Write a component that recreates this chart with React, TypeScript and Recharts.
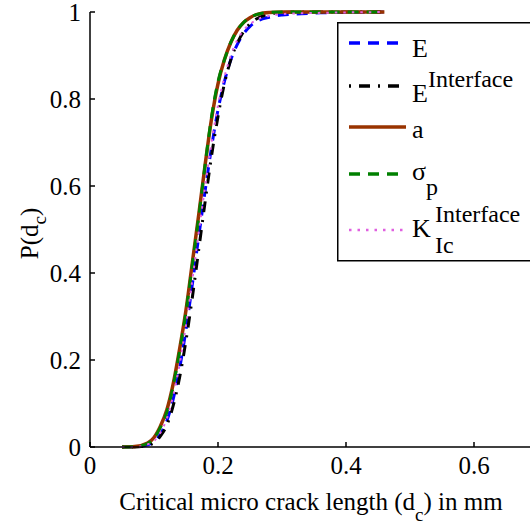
import React from 'react';
import { LineChart, Line, XAxis, YAxis, Legend, Label } from 'recharts';

// critical micro crack length d_c (mm)
const crackLength = [0.05, 0.07, 0.09, 0.1, 0.11, 0.12, 0.13, 0.14, 0.15, 0.16, 0.17, 0.18, 0.19, 0.2, 0.21, 0.22, 0.23, 0.24, 0.25, 0.26, 0.28, 0.3, 0.33, 0.36, 0.4, 0.46];

// P(d_c) for each varied parameter
const pE = [0, 0, 0.005, 0.012, 0.03, 0.06, 0.11, 0.18, 0.27, 0.375, 0.485, 0.59, 0.69, 0.775, 0.84, 0.89, 0.925, 0.95, 0.967, 0.978, 0.988, 0.993, 0.996, 0.998, 0.999, 1];
const pEInterface = [0, 0, 0.004, 0.01, 0.025, 0.05, 0.095, 0.16, 0.245, 0.345, 0.455, 0.565, 0.67, 0.76, 0.835, 0.89, 0.928, 0.955, 0.973, 0.984, 0.995, 0.999, 1, 1, 1, 1];
const pA = [0, 0.001, 0.009, 0.022, 0.048, 0.085, 0.145, 0.225, 0.315, 0.425, 0.535, 0.65, 0.755, 0.835, 0.89, 0.93, 0.958, 0.976, 0.987, 0.994, 0.999, 1, 1, 1, 1, 1];
const pSigmaP = [0, 0.001, 0.008, 0.02, 0.045, 0.08, 0.14, 0.22, 0.31, 0.42, 0.53, 0.65, 0.76, 0.84, 0.89, 0.93, 0.958, 0.976, 0.988, 0.994, 0.999, 1, 1, 1, 1, 1];
const pKInterface = [0, 0, 0.006, 0.014, 0.033, 0.065, 0.118, 0.19, 0.28, 0.385, 0.495, 0.6, 0.7, 0.785, 0.85, 0.9, 0.935, 0.958, 0.972, 0.982, 0.991, 0.995, 0.997, 0.998, 0.999, 1];

const xTicks = [0, 0.2, 0.4, 0.6];
const yTicks = [0, 0.2, 0.4, 0.6, 0.8, 1];
const legendOrder = ['E', 'EI', 'a', 'sp', 'KI'];

const data = crackLength.map((d, i) => ({
  d,
  E: pE[i],
  EI: pEInterface[i],
  a: pA[i],
  sp: pSigmaP[i],
  KI: pKInterface[i],
}));

const serif = '"Liberation Serif"';
const fmt = (v: number) => (v === 0 || v === 1 ? String(v) : v.toFixed(1));

const XTitle = (props: any) => {
  const { x, y, width } = props.viewBox;
  return (
    <text x={x + width / 2 - 3} y={y + 63} textAnchor="middle" style={{ fontFamily: serif }} fontSize={25} fill="#000">
      Critical micro crack length (d
      <tspan dy={11} fontSize={19}>c</tspan>
      <tspan dy={-11}>) in mm</tspan>
    </text>
  );
};

const YTitle = (props: any) => {
  const { y, height } = props.viewBox;
  const cx = 38;
  const cy = y + height / 2 + 4;
  return (
    <text x={cx} y={cy} transform={`rotate(-90, ${cx}, ${cy})`} textAnchor="middle" style={{ fontFamily: serif }} fontSize={25} fill="#000">
      P(d
      <tspan dy={8} fontSize={19}>c</tspan>
      <tspan dy={-8}>)</tspan>
    </text>
  );
};

// legend labels with sub/superscripts
const LegendLabel = ({ k, y }: { k: string; y: number }) => {
  const t = { style: { fontFamily: serif }, fill: '#000' };
  if (k === 'E') return <text x={75} y={y + 14} fontSize={26} {...t}>E</text>;
  if (k === 'EI')
    return (
      <text x={75} y={y + 16} fontSize={26} {...t}>
        E<tspan dy={-15} fontSize={24}>Interface</tspan>
      </text>
    );
  if (k === 'a') return <text x={75} y={y + 11} fontSize={26} {...t}>a</text>;
  if (k === 'sp')
    return (
      <text x={75} y={y + 6} fontSize={26} {...t}>
        σ<tspan dy={15} fontSize={24}>p</tspan>
      </text>
    );
  return (
    <g>
      <text x={75} y={y + 7} fontSize={26} {...t}>K</text>
      <text x={98} y={y - 8} fontSize={24} {...t}>Interface</text>
      <text x={98} y={y + 23} fontSize={24} {...t}>Ic</text>
    </g>
  );
};

const rowY = [21, 64, 105, 152, 208];

const BoxLegend = (props: any) => {
  const items = props.payload || [];
  return (
    <svg width={200} height={242} style={{ display: 'block' }}>
      <rect x={0.75} y={0.75} width={240} height={238} fill="#fff" stroke="#000" strokeWidth={1.5} />
      {legendOrder.map((key, i) => {
        const it = items.find((p: any) => p.dataKey === key);
        if (!it) return null;
        return (
          <g key={key}>
            <line
              x1={12}
              x2={69}
              y1={rowY[i]}
              y2={rowY[i]}
              stroke={it.color}
              strokeWidth={key === 'KI' ? 2.5 : 3.5}
              strokeDasharray={it.payload.strokeDasharray}
            />
            <LegendLabel k={key} y={rowY[i]} />
          </g>
        );
      })}
    </svg>
  );
};

const App = () => {
  const tickStyle = { fontSize: 25, fill: '#000', style: { fontFamily: serif } };
  return (
    <div style={{ position: 'absolute', left: 0, top: 0, width: 530, height: 526, overflow: 'hidden', background: '#fff' }}>
      <LineChart width={560} height={526} data={data} margin={{ top: 12, right: 22, bottom: 0, left: 0 }}>
        <XAxis
          dataKey="d"
          type="number"
          domain={[0, 0.7]}
          ticks={xTicks}
          tickFormatter={fmt}
          height={79}
          tick={tickStyle}
          tickSize={-5}
          tickMargin={14}
          stroke="#000"
          strokeWidth={1.5}
          interval={0}
        >
          <Label content={XTitle} />
        </XAxis>
        <XAxis
          xAxisId="top"
          orientation="top"
          dataKey="d"
          type="number"
          domain={[0, 0.7]}
          ticks={xTicks}
          height={0}
          tick={false}
          tickSize={-5}
          stroke="#000"
          strokeWidth={1.5}
        />
        <YAxis
          type="number"
          domain={[0, 1]}
          ticks={yTicks}
          tickFormatter={fmt}
          width={90}
          tick={tickStyle}
          tickSize={-5}
          tickMargin={14}
          stroke="#000"
          strokeWidth={1.5}
          interval={0}
        >
          <Label content={YTitle} />
        </YAxis>
        <Line dataKey="E" type="monotone" stroke="#0000ff" strokeWidth={3} strokeDasharray="11 8" dot={false} isAnimationActive={false} />
        <Line dataKey="EI" type="monotone" stroke="#000000" strokeWidth={3} strokeDasharray="2 8 11 8" dot={false} isAnimationActive={false} />
        <Line dataKey="a" type="monotone" stroke="#993300" strokeWidth={3.5} dot={false} isAnimationActive={false} />
        <Line dataKey="sp" type="monotone" stroke="#008000" strokeWidth={3} strokeDasharray="11 8" dot={false} isAnimationActive={false} />
        <Line dataKey="KI" type="monotone" stroke="#e060e0" strokeWidth={2} strokeDasharray="2.5 6" dot={false} isAnimationActive={false} />
        <Legend
          layout="vertical"
          align="center"
          verticalAlign="middle"
          content={BoxLegend}
          wrapperStyle={{ position: 'absolute', left: 337, top: 22, width: 200, height: 242 }}
        />
      </LineChart>
    </div>
  );
};

export default App;
